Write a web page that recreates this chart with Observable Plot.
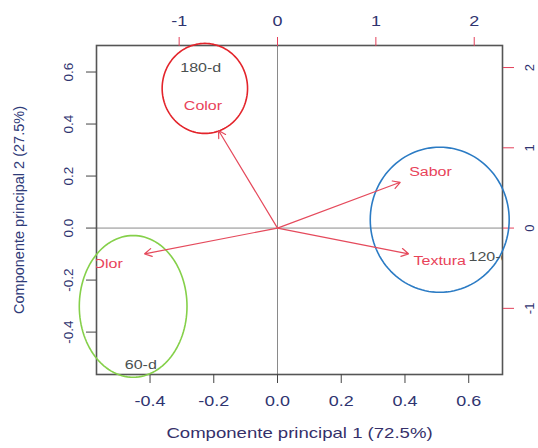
<!DOCTYPE html>
<html><head><meta charset="utf-8">
<script src="https://cdn.jsdelivr.net/npm/d3@7"></script>
<script src="https://cdn.jsdelivr.net/npm/@observablehq/plot@0.6"></script>
<style>html,body{margin:0;padding:0;background:#fff;} svg{display:block}</style>
</head><body><div id="chart"></div>
<script>
// Variable loadings (arrows) — primary (bottom/left) axes
const variables = ["Color", "Sabor", "Textura", "Olor"];
const arrowX = [-0.185, 0.385, 0.411, -0.417];
const arrowY = [0.375, 0.176, -0.099, -0.099];
const labelX = [-0.234, 0.480, 0.509, -0.533];
const labelY = [0.471, 0.217, -0.125, -0.137];

// Sample scores — secondary (top/right) axes
const samples = ["180-d", "60-d", "120-d"];
const scoreX = [-0.78, -1.39, 2.15];
const scoreY = [2.0, -1.71, -0.36];
const scoreRatio = 3.24;

// Group ellipses (primary units)
const groupColors = ["#e3242b", "#85d04a", "#2b7bc4"];
const groupCX = [-0.228, -0.453, 0.509];
const groupCY = [0.537, -0.301, 0.032];
const groupRX = [0.134, 0.169, 0.218];
const groupRY = [0.173, 0.2725, 0.279];

// Axes
const xTicks = [-0.4, -0.2, 0, 0.2, 0.4, 0.6];
const yTicks = [-0.4, -0.2, 0, 0.2, 0.4, 0.6];
const topTicks = [-1, 0, 1, 2];
const rightTicks = [-1, 0, 1, 2];
const xDomain = [-0.568, 0.706];
const yDomain = [-0.563, 0.702];
const xTitle = "Componente principal 1 (72.5%)";
const yTitle = "Componente principal 2 (27.5%)";

const varData = variables.map((v, i) => ({name: v, ax: arrowX[i], ay: arrowY[i], lx: labelX[i], ly: labelY[i]}));
const sampleData = samples.map((s, i) => ({name: s, sx: scoreX[i], sy: scoreY[i]}));

function ellipse(i) {
  const pts = [];
  for (let k = 0; k <= 120; k++) {
    const t = 2 * Math.PI * k / 120;
    pts.push({x: groupCX[i] + groupRX[i] * Math.cos(t), y: groupCY[i] + groupRY[i] * Math.sin(t)});
  }
  return Plot.line(pts, {x: "x", y: "y", stroke: groupColors[i], strokeWidth: 1.6});
}

const tickText = "#2f3470";
const redTick = "#e3405a";
const labRed = "#e8435a";

const chart = Plot.plot({
  width: 538,
  height: 448,
  marginLeft: 96,
  marginRight: 36,
  marginTop: 45,
  marginBottom: 74,
  style: {fontFamily: "'Liberation Sans', Arial, sans-serif", background: "#fff"},
  x: {domain: xDomain, axis: null, label: null},
  y: {domain: yDomain, axis: null, label: null},
  marks: [
    Plot.ruleX([0], {stroke: "#8a8a8a", strokeWidth: 1}),
    Plot.ruleY([0], {stroke: "#8a8a8a", strokeWidth: 1}),
    Plot.frame({stroke: "#555", strokeWidth: 1.6}),
    // bottom axis
    Plot.axisX(xTicks, {anchor: "bottom", tickSize: 9, tickPadding: 13, tickFormat: d => d.toFixed(1), fontSize: 14, stroke: "#444", fill: tickText, label: null}),
    // left axis
    Plot.axisY(yTicks, {anchor: "left", tickSize: 10, tickFormat: () => "", stroke: "#444", label: null}),
    Plot.text(yTicks, {y: d => d, text: d => d.toFixed(1), frameAnchor: "left", textAnchor: "middle", lineAnchor: "middle", dx: -28, rotate: -90, fontSize: 13.5, fill: tickText}),
    // top axis (scores)
    Plot.axisX(topTicks.map(t => t / scoreRatio), {anchor: "top", tickSize: 9, tickPadding: 11, tickFormat: d => String(Math.round(d * scoreRatio)), fontSize: 14, stroke: redTick, fill: tickText, label: null}),
    // right axis (scores)
    Plot.axisY(rightTicks.map(t => t / scoreRatio), {anchor: "right", tickSize: 11, tickFormat: () => "", stroke: redTick, label: null}),
    Plot.text(rightTicks, {y: d => d / scoreRatio, text: d => String(d), frameAnchor: "right", textAnchor: "middle", lineAnchor: "middle", dx: 27, rotate: -90, fontSize: 13, fill: tickText}),
    // titles
    Plot.text([xTitle], {text: d => d, frameAnchor: "bottom", dy: 63, fontSize: 14.5, fill: "#35306a"}),
    Plot.text([yTitle], {text: d => d, frameAnchor: "left", textAnchor: "middle", lineAnchor: "middle", dx: -77, rotate: -90, fontSize: 14.5, fill: "#2e3a78"}),
    // ellipses
    ellipse(0), ellipse(1), ellipse(2),
    // arrows
    Plot.arrow(varData, {x1: () => 0, y1: () => 0, x2: "ax", y2: "ay", stroke: "#e54a5c", strokeWidth: 1.2, headLength: 10, headAngle: 60}),
    Plot.text(varData, {x: "lx", y: "ly", text: "name", fill: labRed, fontSize: 12.5, clip: true}),
    Plot.text(sampleData, {x: d => d.sx / scoreRatio, y: d => d.sy / scoreRatio, text: "name", fill: "#4a5050", fontSize: 12.5, clip: true})
  ]
});

document.getElementById("chart").appendChild(chart);

// horizontal stretch of the horizontal texts, as in the reference image
const stretch = 1.28;
chart.querySelectorAll("text").forEach(t => {
  const tr = t.getAttribute("transform") || "";
  if (tr.includes("rotate")) return;
  const len = t.getComputedTextLength();
  if (len > 0) {
    t.setAttribute("textLength", len * stretch);
    t.setAttribute("lengthAdjust", "spacingAndGlyphs");
  }
});
</script>
</body></html>
